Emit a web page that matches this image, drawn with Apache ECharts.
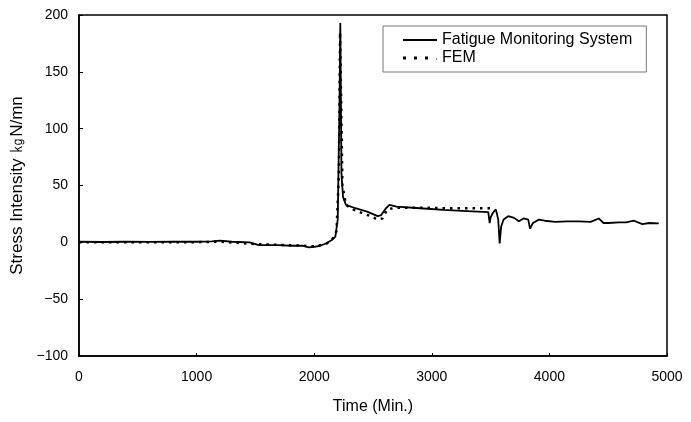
<!DOCTYPE html>
<html><head><meta charset="utf-8">
<script src="https://cdn.jsdelivr.net/npm/echarts@6/dist/echarts.min.js"></script>
<style>html,body{margin:0;padding:0;background:#fff}#c{width:691px;height:422px}</style>
</head><body><div id="c"></div>
<script>
const xTicks = [0, 1000, 2000, 3000, 4000, 5000];
const yTicks = [-100, -50, 0, 50, 100, 150, 200];
const monitorTime = [0,200,400,600,800,1000,1130,1200,1300,1450,1530,1700,1800,1900,1955,2000,2050,2100,2150,2180,2200,2215,2222,2232,2245,2270,2350,2450,2540,2570,2610,2640,2700,2900,3100,3300,3480,3492,3500,3520,3545,3565,3577,3590,3610,3650,3700,3740,3780,3820,3835,3860,3910,3960,4050,4150,4250,4350,4420,4460,4500,4590,4650,4720,4790,4850,4930];
const monitorValue = [0.5,0.3,0.5,0.4,0.6,0.5,0.8,1.5,0.5,0,-2.5,-2.5,-3,-3,-4.5,-4,-3,-1,2,5,20,120,193,60,40,33,30,27,23,24,30,33,31.5,30,28.5,27.5,26.5,17,22,26,29,20,-1,14,20,23,21.5,18.5,21,20,12,17,20,19,18,18.5,18.5,18,21,17,17,17.6,17.5,19,16,17,16.7];
const femTime = [0,300,600,900,1200,1500,1800,2000,2100,2150,2190,2210,2220,2240,2270,2330,2400,2480,2540,2580,2620,2700,2900,3100,3300,3500];
const femValue = [0,0,0,0,0.5,-1.5,-2.5,-3.5,-1.5,2,10,60,185,50,33,29,26,23,20,21,29,30.5,30.5,30,30,30];
const monitorData = monitorTime.map((t,i)=>[t, monitorValue[i]]);
const femData = femTime.map((t,i)=>[t, femValue[i]]);
const font = 'Liberation Sans, Arial, sans-serif';
const chart = echarts.init(document.getElementById('c'));
chart.setOption({
  animation:false,
  backgroundColor:'#fff',
  grid:{left:79,right:24,top:15,bottom:66,show:true,borderColor:'#000',borderWidth:1.5,backgroundColor:'transparent'},
  legend:{
    left:383, top:26, orient:'vertical', itemGap:2,
    padding:[6,14,6,20], borderColor:'#777', borderWidth:1, backgroundColor:'#fff',
    itemWidth:34, itemHeight:14,
    textStyle:{fontFamily:font,fontSize:16,color:'#000'},
    data:[{name:'Fatigue Monitoring System',icon:'path://M0,6L34,6L34,8L0,8Z'},
          {name:'FEM',icon:'path://M0,5h3v3h-3z M11,5h3v3h-3z M22,5h3v3h-3z M33,7h1v1h-1z'}]
  },
  xAxis:{
    type:'value', min:0, max:5000, interval:1000,
    name:'Time (Min.)', nameLocation:'middle', nameGap:43,
    nameTextStyle:{fontFamily:font,fontSize:16,color:'#000',verticalAlign:'top'},
    axisLine:{show:true,onZero:false,lineStyle:{color:'#000',width:1.5}},
    axisTick:{show:true,inside:true,length:3,lineStyle:{color:'#000'}},
    axisLabel:{fontFamily:font,fontSize:14,color:'#000',margin:14,formatter:v=>xTicks.includes(v)?String(v):''},
    splitLine:{show:false}
  },
  yAxis:{
    type:'value', min:-100, max:200, interval:50,
    name:'Stress Intensity ㎏N/mn', nameLocation:'middle', nameGap:52,
    nameTextStyle:{fontFamily:font,fontSize:17,color:'#000'},
    axisLine:{show:true,onZero:false,lineStyle:{color:'#000',width:1.5}},
    axisTick:{show:true,inside:true,length:4,lineStyle:{color:'#000'}},
    axisLabel:{fontFamily:font,fontSize:14,color:'#000',margin:11,formatter:v=>yTicks.includes(v)?String(v).replace('-','\u2212'):''},
    splitLine:{show:false}
  },
  series:[
    {name:'Fatigue Monitoring System',type:'line',data:monitorData,showSymbol:false,
     lineStyle:{color:'#000',width:1.8},itemStyle:{color:'#000'},z:3},
    {name:'FEM',type:'line',data:femData,showSymbol:false,
     lineStyle:{color:'#000',width:2.5,type:[2.5,5]},itemStyle:{color:'#000'},z:2}
  ]
});
</script></body></html>
